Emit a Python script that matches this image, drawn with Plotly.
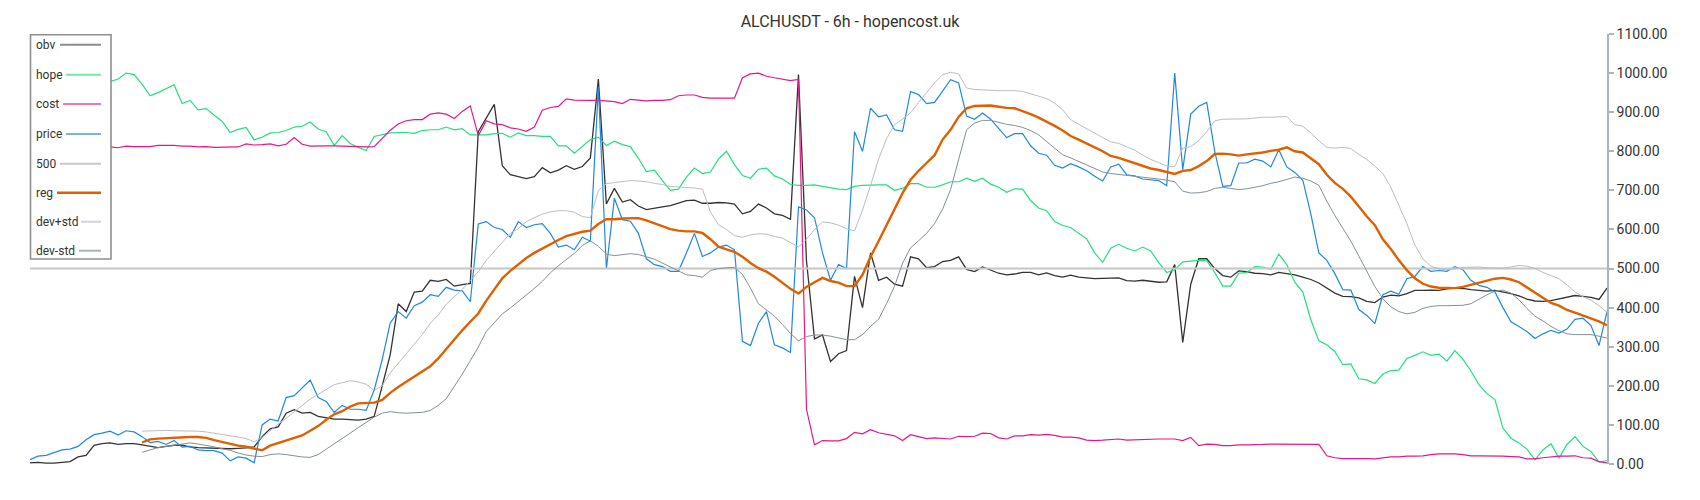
import plotly.graph_objects as go

N = 198
candles = list(range(N))

price = [11, 20, 22, 30, 36, 38, 45, 62, 75, 79,
         84, 74, 85, 82, 70, 55, 58, 50, 60, 43,
         45, 36, 34, 34, 28, 8, 18, 15, 3, 100,
         115, 110, 170, 175, 195, 215, 170, 160, 132, 150,
         140, 140, 137, 190, 267, 361, 390, 373, 405, 414,
         433, 429, 452, 445, 443, 415, 614, 620, 605, 600,
         580, 620, 605, 612, 615, 590, 555, 560, 548, 580,
         570, 965, 499, 680, 625, 621, 590, 525, 510, 505,
         493, 493, 540, 590, 531, 540, 555, 560, 548, 314,
         303, 360, 390, 305, 297, 285, 658, 650, 630, 540,
         470, 510, 500, 850, 800, 910, 888, 893, 855, 851,
         953, 945, 922, 925, 954, 983, 975, 890, 882, 898,
         882, 859, 835, 845, 845, 814, 795, 790, 764, 757,
         768, 760, 750, 736, 724, 760, 767, 740, 737, 729,
         727, 725, 712, 1000, 753, 895, 915, 925, 800, 710,
         712, 770, 770, 780, 775, 760, 804, 760, 746, 726,
         640, 540, 521, 487, 446, 445, 395, 380, 359, 433,
         442, 434, 474, 480, 505, 493, 495, 493, 505, 497,
         470, 457, 452, 440, 400, 364, 352, 339, 321, 333,
         342, 335, 345, 370, 373, 354, 303, 390]

obv = [3, 4, 2, 2, 4, 6, 18, 22, 48, 52,
       54, 50, 52, 52, 49, 45, 42, 45, 48, 48,
       44, 42, 41, 40, 39, 39, 40, 41, 44, 70,
       90, 95, 130, 139, 130, 132, 122, 118, 115, 115,
       113, 112, 115, 122, 200, 280, 410, 390, 440, 442,
       470, 467, 472, 455, 459, 462, 850, 885, 920, 763,
       740, 735, 730, 735, 758, 745, 752, 763, 754, 761,
       783, 985, 665, 705, 670, 676, 660, 651, 655, 658,
       661, 667, 674, 675, 667, 667, 669, 668, 665, 640,
       646, 665, 655, 640, 636, 626, 996, 520, 320, 330,
       262, 282, 290, 480, 400, 540, 470, 478, 460, 455,
       530, 525, 502, 505, 518, 521, 530, 498, 492, 504,
       497, 488, 484, 486, 490, 490, 484, 489, 482, 478,
       483, 478, 476, 474, 475, 476, 476, 469, 468, 470,
       468, 465, 466, 510, 311, 460, 525, 525, 500, 482,
       478, 494, 492, 488, 487, 484, 490, 487, 484, 478,
       472, 463, 450, 437, 429, 428, 425, 416, 413, 427,
       432, 430, 436, 444, 444, 445, 444, 448, 450, 449,
       446, 444, 442, 444, 440, 436, 430, 422, 417, 416,
       418, 422, 426, 431, 429, 426, 421, 450]

hope = [980, 985, 990, 995, 990, 985, 990, 995, 990, 982,
        978, 985, 1000, 996, 972, 942, 950, 960, 970, 922,
        930, 906, 909, 892, 877, 848, 856, 861, 829, 836,
        847, 848, 853, 862, 864, 875, 857, 850, 815, 840,
        820, 810, 802, 838, 843, 847, 848, 848, 846, 853,
        855, 855, 862, 855, 858, 842, 842, 842, 845, 846,
        836, 847, 840, 840, 838, 838, 814, 814, 795, 812,
        830, 836, 815, 826, 817, 812, 782, 748, 752, 725,
        700, 703, 734, 757, 743, 747, 780, 800, 766, 738,
        731, 754, 757, 737, 729, 715, 713, 713, 714, 710,
        707, 703, 702, 710, 713, 714, 714, 714, 700, 705,
        717, 717, 708, 708, 714, 722, 722, 731, 723, 731,
        716, 708, 695, 704, 703, 674, 655, 648, 620, 610,
        605, 590, 576, 540, 516, 552, 562, 552, 545, 555,
        545, 515, 490, 497, 517, 519, 521, 520, 490, 455,
        455, 488, 490, 505, 504, 498, 537, 510, 465, 440,
        369, 315, 305, 288, 254, 256, 218, 215, 206, 230,
        239, 240, 270, 278, 287, 278, 281, 263, 290, 268,
        238, 203, 180, 165, 92, 66, 54, 38, 11, 36,
        52, 15, 50, 70, 45, 32, 5, 9]

cost = [810, 812, 811, 813, 810, 812, 811, 812, 810, 811,
        811, 809, 813, 812, 812, 812, 815, 815, 815, 813,
        813, 811, 812, 810, 810, 810, 811, 819, 816, 817,
        819, 814, 818, 835, 818, 813, 814, 814, 814, 813,
        812, 812, 811, 812, 832, 854, 870, 878, 881, 881,
        895, 898, 895, 884, 902, 916, 840, 878, 870, 868,
        860, 857, 851, 862, 905, 912, 915, 934, 931, 930,
        930, 930, 929, 927, 922, 933, 931, 929, 930, 930,
        932, 942, 944, 944, 938, 936, 936, 936, 936, 988,
        998, 1000, 992, 988, 985, 981, 984, 140, 49, 60,
        59, 59, 65, 81, 77, 88, 80, 76, 72, 60,
        75, 70, 65, 67, 65, 64, 71, 70, 71, 79,
        78, 67, 64, 72, 72, 75, 74, 76, 73, 69,
        69, 67, 61, 60, 61, 62, 64, 61, 62, 63,
        64, 64, 64, 64, 60, 68, 47, 51, 50, 47,
        47, 49, 49, 49, 50, 51, 51, 51, 51, 51,
        50, 50, 21, 16, 14, 14, 15, 14, 13, 16,
        18, 18, 20, 20, 21, 24, 26, 26, 26, 24,
        21, 21, 21, 21, 20, 19, 18, 13, 13, 16,
        18, 20, 20, 21, 16, 15, 6, 3]

level_500 = [500] * N

reg = [None] * 14 + [
    55, 63, 65, 66, 67, 69,
    69, 69, 67, 61, 56, 52, 47, 44, 40, 35,
    47, 54, 60, 66, 73, 85, 97, 113, 127, 135,
    147, 155, 156, 157, 164, 182, 197, 210, 224, 236,
    250, 270, 295, 318, 342, 364, 385, 418, 448, 475,
    494, 510, 527, 540, 551, 564, 573, 583, 589, 594,
    597, 614, 626, 626, 628, 629, 629, 623, 615, 607,
    601, 597, 595, 595, 591, 575, 556, 549, 543, 530,
    514, 501, 492, 479, 463, 448, 436, 453, 465, 476,
    468, 464, 455, 455, 484, 530, 570, 612, 654, 693,
    727, 750, 770, 790, 830, 855, 888, 910, 916, 917,
    917, 914, 911, 910, 903, 895, 886, 876, 865, 853,
    839, 830, 821, 810, 800, 788, 783, 776, 768, 761,
    756, 752, 746, 742, 750, 752, 762, 775, 793, 794,
    792, 789, 792, 794, 797, 801, 804, 810, 800, 797,
    782, 767, 740, 719, 704, 684, 659, 633, 611, 575,
    550, 521, 496, 475, 461, 454, 451, 450, 450, 453,
    458, 464, 469, 474, 476, 472, 465, 452, 439, 426,
    412, 405, 394, 387, 380, 372, 365, 355]

dev_plus = [None] * 14 + [
    84, 85, 86, 86, 85, 85,
    85, 84, 82, 79, 76, 73, 69, 65, 57, 68,
    86, 102, 117, 133, 150, 166, 178, 190, 203, 208,
    213, 210, 204, 188, 200, 233, 257, 282, 306, 331,
    360, 381, 409, 427, 447, 469, 492, 521, 544, 568,
    590, 602, 620, 630, 639, 645, 648, 648, 644, 633,
    630, 700, 717, 720, 722, 725, 724, 722, 718, 715,
    710, 709, 708, 706, 703, 645, 612, 600, 584, 580,
    586, 589, 588, 582, 578, 567, 555, 575, 600, 619,
    617, 611, 602, 596, 650, 712, 780, 832, 868, 882,
    898, 925, 950, 975, 996, 1002, 998, 962, 958, 957,
    955, 955, 955, 955, 953, 948, 941, 935, 923, 906,
    881, 869, 858, 845, 834, 824, 820, 812, 803, 790,
    779, 771, 762, 760, 808, 812, 827, 850, 878, 882,
    882, 882, 883, 885, 887, 887, 888, 889, 868, 864,
    847, 827, 810, 808, 810, 807, 792, 779, 762, 743,
    708, 660, 615, 560, 525, 506, 499, 497, 499, 503,
    504, 504, 502, 501, 501, 504, 508, 506, 500, 490,
    482, 474, 458, 440, 428, 419, 405, 388]

dev_minus = [None] * 14 + [
    30, 37, 42, 45, 48, 52,
    54, 51, 48, 44, 39, 35, 28, 23, 20, 19,
    24, 26, 24, 21, 18, 17, 24, 38, 51, 66,
    79, 93, 106, 120, 130, 134, 131, 130, 131, 132,
    137, 150, 167, 197, 230, 264, 299, 339, 362, 384,
    399, 415, 432, 449, 467, 489, 507, 522, 539, 559,
    571, 557, 537, 533, 535, 538, 536, 530, 524, 514,
    504, 492, 484, 482, 478, 495, 500, 502, 503, 485,
    450, 410, 394, 378, 357, 334, 315, 326, 330, 330,
    327, 322, 318, 318, 331, 352, 370, 410, 455, 514,
    553, 571, 590, 615, 652, 702, 780, 855, 872, 879,
    879, 874, 869, 866, 861, 853, 842, 825, 807, 791,
    783, 774, 765, 755, 747, 743, 741, 738, 736, 733,
    731, 729, 726, 722, 698, 693, 694, 697, 705, 708,
    705, 702, 704, 708, 712, 718, 722, 728, 734, 731,
    724, 713, 672, 636, 602, 570, 532, 491, 454, 423,
    402, 390, 384, 388, 398, 403, 405, 405, 405, 406,
    410, 422, 433, 442, 445, 437, 420, 398, 378, 366,
    352, 341, 333, 331, 331, 331, 327, 322]

y_ticks = [0, 100, 200, 300, 400, 500, 600, 700, 800, 900, 1000, 1100]

series = [
    ("obv", obv, "#333333", 1.3, "#8c8c8c", 2),
    ("hope", hope, "#1fe27a", 1.2, "#74e8a6", 2),
    ("cost", cost, "#e8168a", 1.2, "#ef77b6", 2),
    ("price", price, "#1e88e5", 1.2, "#78b4ea", 2),
    ("500", level_500, "#c6c6c6", 2, "#c8c8c8", 2),
    ("reg", reg, "#e06000", 2.4, "#e06000", 2.4),
    ("dev+std", dev_plus, "#b9bec3", 1, "#d0d5d9", 2),
    ("dev-std", dev_minus, "#84909a", 1, "#a9b1b8", 2),
]

fig = go.Figure()
for name, vals, color, width, _, _ in series:
    fig.add_trace(go.Scatter(x=candles, y=vals, name=name, mode="lines",
                             line=dict(color=color, width=width),
                             showlegend=False, hoverinfo="skip"))

# The page body has an 8px margin; size the figure so that the plot lands
# where it sits in the 1700x500 window.
OFF = 8
W, H = 1700 - 2 * OFF, 500 - 2 * OFF
L, R, T, B = 30 - OFF, 93 - OFF, 34 - OFF, 36 - OFF
PW, PH = W - L - R, H - T - B


def px_x(px):
    # window pixel -> paper fraction
    return (px - OFF - L) / PW


def px_y(py):
    return 1 - (py - OFF - T) / PH


shapes = []
annotations = []
shapes.append(dict(type="rect", xref="paper", yref="paper",
                   x0=px_x(30.5), x1=px_x(111), y0=px_y(259), y1=px_y(34.8),
                   line=dict(color="#8e8e8e", width=1.6), fillcolor="white",
                   layer="above"))
leg_y = [44.7, 74.7, 104, 134, 163.7, 192.7, 221.7, 250.7]
leg_x0 = [60, 66, 63, 66, 60, 57, 81, 79]
for (name, _, _, _, lcol, lw), yc, xs in zip(series, leg_y, leg_x0):
    shapes.append(dict(type="line", xref="paper", yref="paper",
                       x0=px_x(xs), x1=px_x(101), y0=px_y(yc), y1=px_y(yc),
                       line=dict(color=lcol, width=lw), layer="above"))
    annotations.append(dict(xref="paper", yref="paper", x=px_x(34), y=px_y(yc),
                            text=name, showarrow=False, xanchor="left",
                            yanchor="middle",
                            font=dict(family="Roboto", size=12, color="#333333")))

fig.update_layout(
    width=W, height=H,
    margin=dict(l=L, r=R, t=T, b=B),
    paper_bgcolor="white", plot_bgcolor="white",
    font=dict(family="Roboto", color="#333333"),
    title=dict(text="ALCHUSDT - 6h - hopencost.uk", x=0.5, xanchor="center",
               y=1 - (21 - OFF) / H, yanchor="middle",
               font=dict(family="Roboto", size=16, color="#333333")),
    xaxis=dict(visible=False, range=[0, N - 1]),
    yaxis=dict(side="right", range=[0, 1100], tickvals=y_ticks,
               ticktext=[f"{v:.2f}" for v in y_ticks],
               showgrid=False, zeroline=False, showline=True,
               linecolor="#aab4bb", linewidth=1.5, ticks="outside",
               ticklen=5, tickcolor="#aab4bb", tickwidth=1.5,
               tickfont=dict(family="Roboto", size=14, color="#333333")),
    shapes=shapes,
    annotations=annotations,
    showlegend=False,
)

fig.write_html("out.html")
